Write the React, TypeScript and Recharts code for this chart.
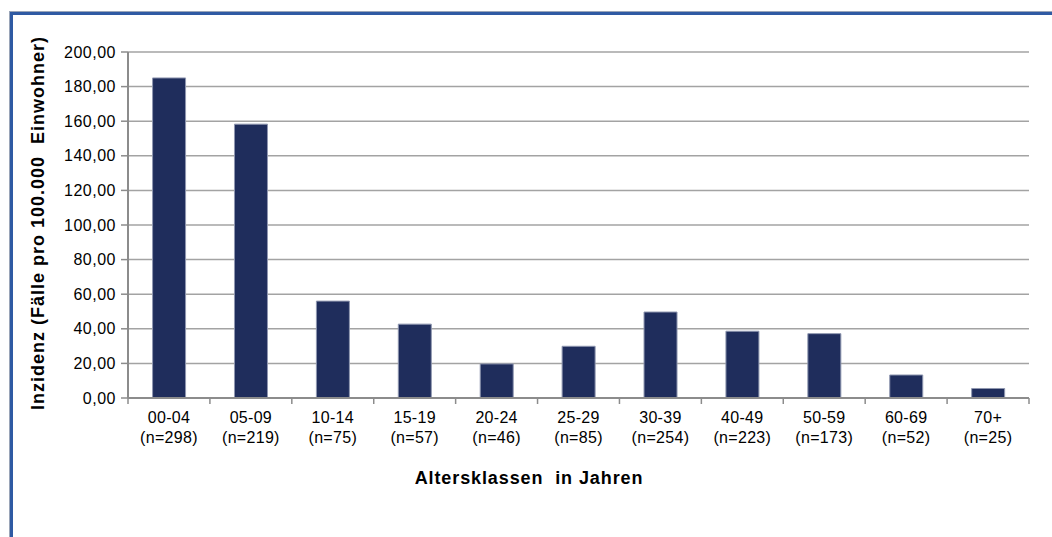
import React from "react";
import { BarChart, Bar, XAxis, YAxis, CartesianGrid, Label } from "recharts";

const ageGroups = ["00-04", "05-09", "10-14", "15-19", "20-24", "25-29", "30-39", "40-49", "50-59", "60-69", "70+"];
const caseCounts = ["n=298", "n=219", "n=75", "n=57", "n=46", "n=85", "n=254", "n=223", "n=173", "n=52", "n=25"];
const incidence = [185.0, 158.3, 56.0, 42.7, 19.7, 29.9, 49.7, 38.6, 37.2, 13.3, 5.5];
const yTicks = [0, 20, 40, 60, 80, 100, 120, 140, 160, 180, 200];

const data = ageGroups.map((g, i) => ({ group: g, n: caseCounts[i], value: incidence[i] }));

const W = 1052;
const H = 537;
const M = { top: 52, right: 23, bottom: 0, left: 0 };
const X_AXIS_H = 139;
const Y_AXIS_W = 128;
const FONT = "'Liberation Sans', Arial, sans-serif";

const fmt = (v: number) => v.toFixed(2).replace(".", ",");

const XTick = (props: any) => {
  const { x, y, payload, index } = props;
  const band = (W - M.left - M.right - Y_AXIS_W) / ageGroups.length;
  const left = x - band / 2;
  return (
    <g>
      <line x1={left} y1={y - 8} x2={left} y2={y - 2} stroke="#8c8c8c" strokeWidth={1.5} />
      {index === ageGroups.length - 1 && (
        <line x1={left + band} y1={y - 8} x2={left + band} y2={y - 2} stroke="#8c8c8c" strokeWidth={1.5} />
      )}
      <text x={x} y={y + 17} textAnchor="middle" fill="#000" fontSize={16} fontFamily={FONT} letterSpacing={0.3}>
        {payload.value}
      </text>
      <text x={x} y={y + 37} textAnchor="middle" fill="#000" fontSize={16} fontFamily={FONT} letterSpacing={0.3}>
        ({caseCounts[index]})
      </text>
    </g>
  );
};

export default function App() {
  return (
    <div style={{ position: "absolute", left: 0, top: 0, width: W, height: H, background: "#fff", overflow: "hidden" }}>
      <div
        style={{
          position: "absolute",
          left: 10,
          top: 12,
          width: W,
          height: H,
          borderLeft: "3px solid #2f5aa3",
          borderTop: "3px solid #2f5aa3",
          boxShadow: "-1px -1px 0 #9aa5b8",
        }}
      />
      <div style={{ position: "absolute", left: 0, top: 0 }}>
        <BarChart width={W} height={H} data={data} margin={M} barCategoryGap="30%">
          <CartesianGrid vertical={false} stroke="#a3a3a3" strokeWidth={1.5} />
          <XAxis
            dataKey="group"
            tick={<XTick />}
            tickLine={false}
            axisLine={{ stroke: "#8c8c8c", strokeWidth: 2 }}
            interval={0}
            height={X_AXIS_H}
          >
            <Label
              content={() => (
                <text
                  x={529}
                  y={484}
                  textAnchor="middle"
                  fontSize={18}
                  fontWeight="bold"
                  fontFamily={FONT}
                  letterSpacing={0.9}
                  fill="#000"
                  style={{ whiteSpace: "pre" }}
                >
                  Altersklassen  in Jahren
                </text>
              )}
            />
          </XAxis>
          <YAxis
            width={Y_AXIS_W}
            domain={[0, 200]}
            ticks={yTicks}
            tickFormatter={fmt}
            tick={{ fontSize: 16, fill: "#000", fontFamily: FONT, letterSpacing: 0.5 }}
            tickLine={{ stroke: "#8c8c8c", strokeWidth: 1.5 }}
            tickSize={7}
            tickMargin={5}
            axisLine={{ stroke: "#8c8c8c", strokeWidth: 2 }}
            interval={0}
          >
            <Label
              content={() => (
                <text
                  x={44}
                  y={223}
                  transform="rotate(-90 44 223)"
                  textAnchor="middle"
                  fontSize={18}
                  fontWeight="bold"
                  fontFamily={FONT}
                  letterSpacing={1}
                  fill="#000"
                  style={{ whiteSpace: "pre" }}
                >
                  Inzidenz (Fälle pro 100.000  Einwohner)
                </text>
              )}
            />
          </YAxis>
          <Bar dataKey="value" fill="#1f2d5c" stroke="#8f97b0" strokeWidth={1} isAnimationActive={false} />
        </BarChart>
      </div>
    </div>
  );
}
